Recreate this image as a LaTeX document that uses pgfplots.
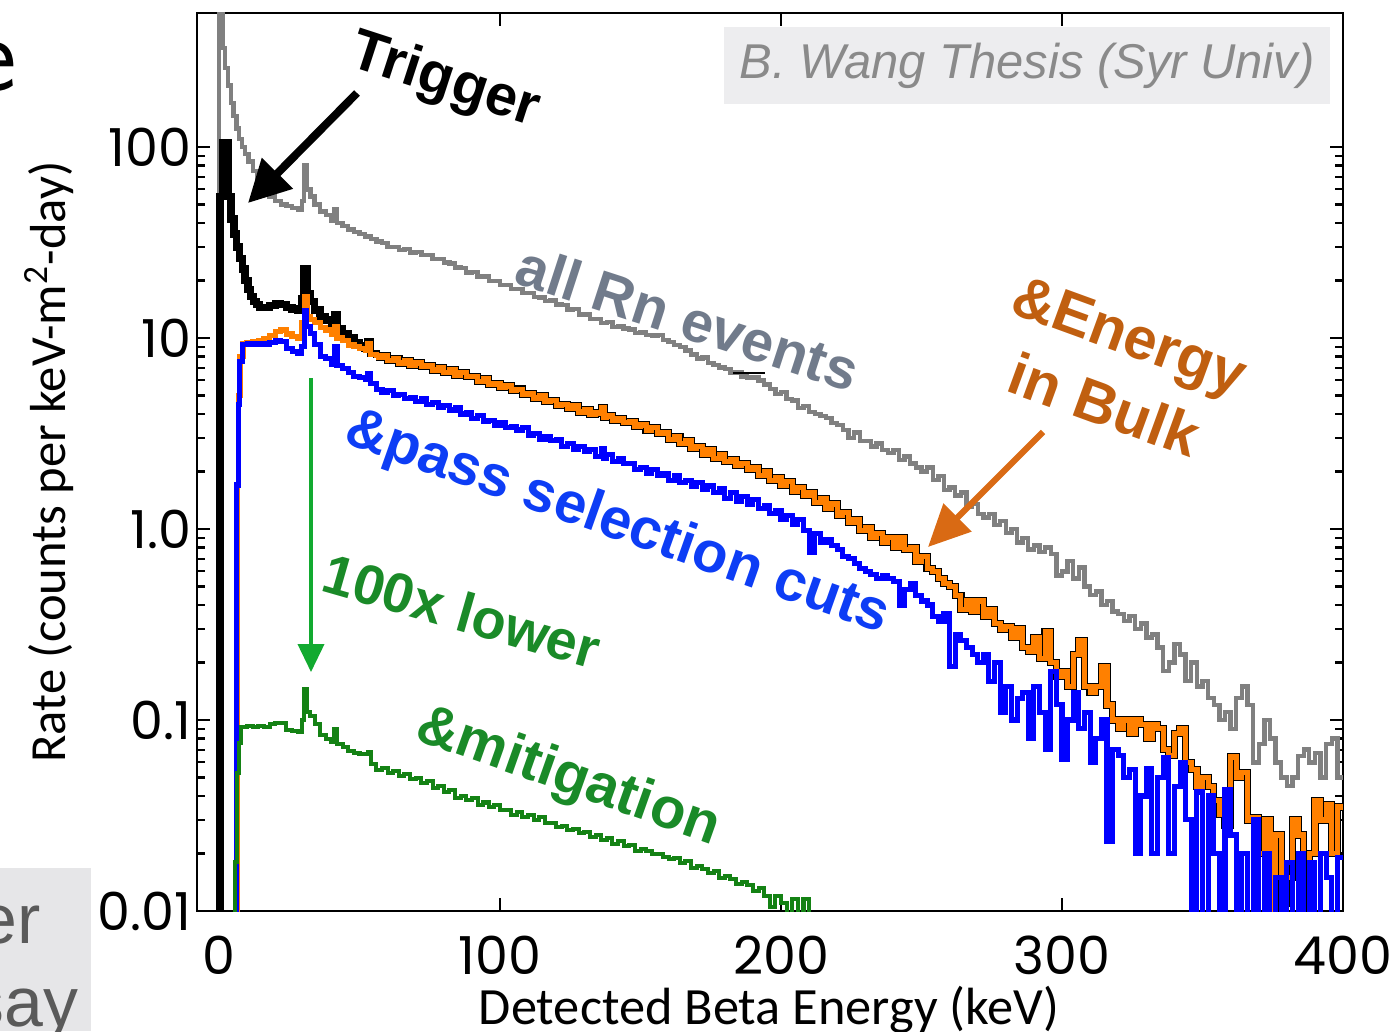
\documentclass[border=0pt]{standalone}
\usepackage{fontspec}
\usepackage{pgfplots}
\pgfplotsset{compat=1.18}
\usepackage{pgfplotstable}
\usetikzlibrary{arrows.meta}
\newfontfamily\lib{Liberation Sans}
\newfontfamily\pop{Poppins}
\newfontfamily\carl{Carlito}
\definecolor{cgray}{HTML}{808080}
\definecolor{corange}{HTML}{FF8000}
\definecolor{cblue}{HTML}{0000FF}
\definecolor{cgreen}{HTML}{148214}
\definecolor{tslate}{HTML}{717B8B}
\definecolor{torange}{HTML}{C05F10}
\definecolor{tblue}{HTML}{0D3DF5}
\definecolor{tgreen}{HTML}{1A8A28}
\definecolor{agreen}{HTML}{12AA30}
\definecolor{aorange}{HTML}{D96A14}
\definecolor{boxgray}{HTML}{EDEDEF}
\definecolor{wanggray}{HTML}{8A8A8A}
\definecolor{fraggray}{HTML}{E6E6E8}
\definecolor{fragtext}{HTML}{5A5A5A}

\pgfplotstableread[row sep=\\]{E v\\
-1 1e-4\\ 0 3000\\ 1.2 330\\ 2.2 260\\ 3.2 210\\ 4.2 170\\ 5.2 145\\ 6.2 125\\ 7.2 110\\ 8.2 100\\ 9.2 92\\ 10.5 84\\ 12 75\\ 13.5 68\\ 15 62\\ 16.5 58\\ 18 55\\ 20 52\\ 22 50\\ 24 49\\ 26 48\\ 28 47\\ 29.5 52\\ 30.3 80\\ 31.3 60\\ 32.5 55\\ 34 50\\ 36 46\\ 38 44\\ 40 41\\ 41 47\\ 42 40\\ 44 38.5\\ 46 37\\ 48 36\\ 50 35\\ 52 34\\ 54 33\\ 56 32\\ 58 31.5\\ 60 30\\ 62 30\\ 64 28.8\\ 66 29.2\\ 68 28\\ 70 28.3\\ 72 27.2\\ 74 27.3\\ 76 26\\ 78 26\\ 80 24.8\\ 82 24.6\\ 84 23.4\\ 86 23.3\\ 88 22\\ 90 22.1\\ 92 21\\ 94 21\\ 96 19.9\\ 98 19.9\\ 100 18.9\\ 102 18.9\\ 104 18\\ 106 18\\ 108 17.2\\ 110 17.2\\ 112 16.4\\ 114 16.3\\ 116 15.6\\ 118 15.7\\ 120 15\\ 122 14.9\\ 124 14.1\\ 126 14.2\\ 128 13.3\\ 130 13.3\\ 132 12.6\\ 134 12.6\\ 136 12\\ 138 12.1\\ 140 11.4\\ 142 11.5\\ 144 11.2\\ 146 11.1\\ 148 10.6\\ 150 10.7\\ 152 10.4\\ 154 10.3\\ 156 10.4\\ 158 9.8\\ 160 9.5\\ 162 9.2\\ 164 9.0\\ 166 8.6\\ 168 8.2\\ 170 7.8\\ 172 7.9\\ 174 7.4\\ 176 7.2\\ 178 7.0\\ 180 6.9\\ 182 6.6\\ 184 6.6\\ 186 6.3\\ 188 6.2\\ 190 6.2\\ 192 6.0\\ 194 5.7\\ 196 5.4\\ 198 5.1\\ 200 5.2\\ 202 4.8\\ 204 4.7\\ 206 4.3\\ 208 4.4\\ 210 4.1\\ 212 4.0\\ 214 3.9\\ 216 3.8\\ 218 3.6\\ 220 3.5\\ 222 3.3\\ 224 3.0\\ 226 3.2\\ 228 2.9\\ 230 2.9\\ 232 2.7\\ 234 2.8\\ 236 2.6\\ 238 2.5\\ 240 2.6\\ 242 2.3\\ 244 2.4\\ 246 2.2\\ 248 2.1\\ 250 2.0\\ 252 2.1\\ 254 1.8\\ 256 1.9\\ 258 1.6\\ 260 1.65\\ 262 1.5\\ 264 1.55\\ 266 1.3\\ 268 1.35\\ 270 1.2\\ 272 1.15\\ 274 1.2\\ 276 1.05\\ 278 1.1\\ 280 0.95\\ 282 1.0\\ 284 0.85\\ 286 0.9\\ 288 0.78\\ 290 0.82\\ 292 0.76\\ 294 0.8\\ 296 0.74\\ 298 0.57\\ 300 0.6\\ 302 0.68\\ 304 0.55\\ 306 0.63\\ 308 0.5\\ 310 0.45\\ 312 0.47\\ 314 0.4\\ 316 0.42\\ 318 0.37\\ 320 0.36\\ 322 0.33\\ 324 0.35\\ 326 0.3\\ 328 0.32\\ 330 0.27\\ 332 0.28\\ 334 0.24\\ 336 0.18\\ 338 0.2\\ 340 0.25\\ 342 0.22\\ 344 0.16\\ 346 0.2\\ 348 0.15\\ 350 0.16\\ 352 0.13\\ 354 0.12\\ 356 0.1\\ 358 0.11\\ 360 0.09\\ 362 0.13\\ 364 0.15\\ 366 0.12\\ 368 0.06\\ 370 0.075\\ 372 0.1\\ 374 0.08\\ 376 0.06\\ 378 0.05\\ 380 0.045\\ 382 0.05\\ 384 0.065\\ 386 0.07\\ 388 0.06\\ 390 0.067\\ 392 0.05\\ 394 0.075\\ 396 0.08\\ 398 0.05\\ 400 0.05\\
}\grayd

\pgfplotstableread[row sep=\\]{E v\\
56 7.9\\ 58 8.1\\ 60 7.6\\ 62 7.8\\ 64 7.4\\ 66 7.6\\ 68 7.2\\ 70 7.4\\ 72 7.1\\ 74 7.2\\ 76 6.8\\ 78 7.0\\ 80 6.6\\ 82 6.8\\ 84 6.4\\ 86 6.6\\ 88 6.3\\ 90 6.3\\ 92 5.9\\ 94 6.1\\ 96 5.75\\ 98 5.8\\ 100 5.5\\ 102 5.6\\ 104 5.3\\ 106 5.4\\ 108 5.05\\ 110 5.1\\ 112 4.85\\ 114 5.0\\ 116 4.65\\ 118 4.7\\ 120 4.45\\ 122 4.5\\ 124 4.3\\ 126 4.4\\ 128 4.1\\ 130 4.2\\ 132 4.0\\ 134 4.05\\ 136 4.3\\ 137 3.85\\ 138 3.9\\ 140 3.7\\ 142 3.8\\ 144 3.6\\ 146 3.65\\ 148 3.45\\ 150 3.5\\ 152 3.3\\ 154 3.4\\ 156 3.15\\ 158 3.2\\ 160 2.95\\ 162 3.05\\ 164 2.8\\ 166 2.9\\ 168 2.65\\ 170 2.7\\ 172 2.45\\ 174 2.6\\ 176 2.35\\ 178 2.45\\ 180 2.25\\ 182 2.3\\ 184 2.15\\ 186 2.2\\ 188 2.05\\ 190 2.1\\ 192 1.9\\ 194 2.0\\ 196 1.8\\ 198 1.85\\ 200 1.7\\ 202 1.78\\ 204 1.58\\ 206 1.65\\ 208 1.5\\ 210 1.55\\ 212 1.38\\ 214 1.45\\ 216 1.28\\ 218 1.35\\ 220 1.18\\ 222 1.22\\ 224 1.08\\ 226 1.12\\ 228 0.98\\ 230 1.02\\ 232 0.9\\ 234 0.95\\ 236 0.85\\ 238 0.9\\ 240 0.8\\ 242 0.9\\ 244 0.78\\ 246 0.8\\ 248 0.68\\ 250 0.72\\ 252 0.62\\ 254 0.6\\ 256 0.55\\ 258 0.52\\ 260 0.5\\ 262 0.45\\ 264 0.38\\ 266 0.42\\ 268 0.37\\ 270 0.42\\ 272 0.35\\ 274 0.38\\ 276 0.32\\ 278 0.3\\ 280 0.31\\ 282 0.27\\ 284 0.3\\ 286 0.24\\ 288 0.23\\ 290 0.27\\ 292 0.21\\ 294 0.29\\ 296 0.2\\ 298 0.17\\ 300 0.18\\ 302 0.15\\ 304 0.22\\ 306 0.26\\ 308 0.15\\ 310 0.14\\ 312 0.15\\ 314 0.19\\ 316 0.12\\ 318 0.1\\ 320 0.09\\ 322 0.1\\ 324 0.085\\ 326 0.1\\ 328 0.095\\ 330 0.08\\ 332 0.095\\ 334 0.09\\ 336 0.07\\ 338 0.065\\ 340 0.085\\ 342 0.09\\ 344 0.06\\ 346 0.055\\ 348 0.045\\ 350 0.05\\ 352 0.045\\ 354 0.038\\ 356 0.032\\ 358 0.028\\ 360 0.064\\ 362 0.05\\ 364 0.053\\ 366 0.03\\ 368 0.031\\ 370 0.02\\ 372 0.03\\ 374 0.008\\ 376 0.025\\ 378 0.011\\ 380 0.015\\ 382 0.03\\ 384 0.025\\ 386 0.008\\ 388 0.02\\ 390 0.038\\ 392 0.03\\ 394 0.036\\ 396 0.02\\ 398 0.035\\ 400 0.035\\
}\highd

\pgfplotstableread[row sep=\\]{E v\\
-1 1e-4\\ 0.3 55\\ 1.3 105\\ 3.3 55\\ 4.3 42\\ 5.3 35\\ 6.3 30\\ 7.3 26\\ 8.3 23\\ 9.3 20\\ 10.3 18\\ 11.3 16.5\\ 12.3 15.5\\ 13.3 15\\ 14.5 14.5\\ 16 14.5\\ 18 14.8\\ 20 15.2\\ 22 15.0\\ 24 14.5\\ 26 14.2\\ 28 14.0\\ 29.5 16\\ 30.3 23\\ 31.3 17\\ 32.5 15.5\\ 34 14\\ 36 13\\ 38 12.4\\ 40 11.6\\ 41 13.3\\ 42 11.2\\ 44 10.6\\ 46 10\\ 48 9.5\\ 50 9.1\\ 52 8.8\\ 53 9.6\\ 54 8.3\\ 56 7.9\\
}\blacklow

\pgfplotstableread[row sep=\\]{E v\\
-1 1e-4\\ 5.5 1e-4\\ 6.5 1.7\\ 7 5\\ 7.5 8\\ 8.5 9.3\\ 10 9.5\\ 12 9.6\\ 14 9.7\\ 16 9.9\\ 18 10.3\\ 20 10.8\\ 22 11.0\\ 24 10.5\\ 26 10.2\\ 28 10.0\\ 29.5 12\\ 30.3 16.4\\ 31.3 13\\ 32.5 12.5\\ 34 12\\ 36 11.4\\ 38 11\\ 40 10.4\\ 41 11.5\\ 42 10\\ 44 9.7\\ 46 9.2\\ 48 9.0\\ 50 8.8\\ 52 8.6\\ 53 9.4\\ 54 8.2\\ 56 7.9\\
}\orangelow

\pgfplotstableread[row sep=\\]{E v\\
-1 1e-4\\ 6.0 1e-4\\ 6.3 1.7\\ 6.9 4.5\\ 7.4 7.5\\ 8.2 9.2\\ 10 9.4\\ 12 9.3\\ 14 9.4\\ 16 9.3\\ 18 9.5\\ 20 9.7\\ 22 9.6\\ 24 8.8\\ 26 8.5\\ 28 8.3\\ 29.5 9\\ 30.3 14\\ 31.3 11.5\\ 32.5 10.6\\ 34 9.2\\ 36 8.0\\ 38 7.8\\ 40 7.3\\ 41 9.0\\ 42 7.2\\ 44 6.9\\ 46 6.6\\ 48 6.3\\ 50 6.2\\ 52 6.1\\ 53 6.5\\ 54 5.8\\ 56 5.4\\ 58 5.2\\ 60 5.3\\ 62 5.0\\ 64 5.05\\ 66 4.8\\ 68 4.9\\ 70 4.65\\ 72 4.8\\ 74 4.5\\ 76 4.6\\ 78 4.35\\ 80 4.45\\ 82 4.2\\ 84 4.3\\ 86 4.0\\ 88 4.05\\ 90 3.8\\ 92 3.95\\ 94 3.65\\ 96 3.7\\ 98 3.5\\ 100 3.6\\ 102 3.4\\ 104 3.45\\ 106 3.3\\ 108 3.4\\ 110 3.1\\ 112 3.15\\ 114 2.95\\ 116 3.05\\ 118 2.9\\ 120 2.95\\ 122 2.7\\ 124 2.8\\ 126 2.6\\ 128 2.7\\ 130 2.55\\ 132 2.6\\ 134 2.4\\ 136 2.65\\ 137 2.35\\ 138 2.45\\ 140 2.25\\ 142 2.35\\ 144 2.2\\ 146 2.2\\ 148 2.05\\ 150 2.1\\ 152 1.95\\ 154 2.05\\ 156 1.9\\ 158 1.95\\ 160 1.8\\ 162 1.9\\ 164 1.75\\ 166 1.8\\ 168 1.68\\ 170 1.75\\ 172 1.62\\ 174 1.68\\ 176 1.55\\ 178 1.62\\ 180 1.45\\ 182 1.55\\ 184 1.4\\ 186 1.48\\ 188 1.35\\ 190 1.42\\ 192 1.28\\ 194 1.33\\ 196 1.2\\ 198 1.25\\ 200 1.12\\ 202 1.18\\ 204 1.05\\ 206 1.12\\ 208 0.98\\ 210 0.75\\ 212 0.95\\ 214 0.85\\ 216 0.88\\ 218 0.82\\ 220 0.78\\ 222 0.72\\ 224 0.7\\ 226 0.66\\ 228 0.62\\ 230 0.6\\ 232 0.58\\ 234 0.55\\ 236 0.57\\ 238 0.55\\ 240 0.53\\ 242 0.4\\ 244 0.48\\ 246 0.52\\ 248 0.45\\ 250 0.42\\ 252 0.4\\ 254 0.35\\ 256 0.33\\ 258 0.36\\ 260 0.19\\ 262 0.28\\ 264 0.26\\ 266 0.24\\ 268 0.22\\ 270 0.2\\ 272 0.22\\ 274 0.16\\ 276 0.2\\ 278 0.11\\ 280 0.15\\ 282 0.1\\ 284 0.13\\ 286 0.14\\ 288 0.08\\ 290 0.15\\ 292 0.11\\ 294 0.07\\ 296 0.18\\ 298 0.12\\ 300 0.062\\ 302 0.1\\ 304 0.14\\ 306 0.09\\ 308 0.11\\ 310 0.06\\ 312 0.08\\ 314 0.1\\ 316 0.023\\ 318 0.07\\ 320 0.065\\ 322 0.05\\ 324 0.055\\ 326 0.02\\ 328 0.04\\ 330 0.056\\ 332 0.02\\ 334 0.05\\ 336 0.064\\ 338 0.02\\ 340 0.045\\ 342 0.06\\ 344 0.03\\ 346 1e-4\\ 348 0.042\\ 350 1e-4\\ 352 0.04\\ 354 0.02\\ 356 1e-4\\ 358 0.043\\ 360 0.025\\ 362 1e-4\\ 364 0.02\\ 366 1e-4\\ 368 0.03\\ 370 1e-4\\ 372 0.02\\ 374 1e-4\\ 376 0.015\\ 378 1e-4\\ 380 0.018\\ 382 1e-4\\ 384 0.02\\ 386 1e-4\\ 388 0.018\\ 390 1e-4\\ 392 0.02\\ 394 0.015\\ 396 1e-4\\ 398 0.019\\ 400 0.019\\
}\blued

\pgfplotstableread[row sep=\\]{E v\\
-1 1e-4\\ 5.8 0.018\\ 6.5 0.053\\ 7.0 0.076\\ 8.0 0.092\\ 10 0.093\\ 12 0.092\\ 14 0.093\\ 16 0.092\\ 18 0.095\\ 20 0.097\\ 22 0.096\\ 24 0.089\\ 26 0.088\\ 28 0.087\\ 29.5 0.1\\ 30.3 0.145\\ 31.3 0.11\\ 32.5 0.105\\ 34 0.095\\ 36 0.083\\ 38 0.08\\ 40 0.077\\ 41 0.09\\ 42 0.075\\ 44 0.072\\ 46 0.069\\ 48 0.067\\ 50 0.066\\ 52 0.066\\ 53 0.068\\ 54 0.059\\ 56 0.055\\ 58 0.056\\ 60 0.053\\ 62 0.054\\ 64 0.051\\ 66 0.052\\ 68 0.049\\ 70 0.05\\ 72 0.047\\ 74 0.048\\ 76 0.044\\ 78 0.045\\ 80 0.042\\ 82 0.043\\ 84 0.039\\ 86 0.040\\ 88 0.038\\ 90 0.039\\ 92 0.036\\ 94 0.037\\ 96 0.035\\ 98 0.036\\ 100 0.034\\ 102 0.034\\ 104 0.032\\ 106 0.033\\ 108 0.031\\ 110 0.032\\ 112 0.030\\ 114 0.031\\ 116 0.029\\ 118 0.029\\ 120 0.0275\\ 122 0.028\\ 124 0.0265\\ 126 0.027\\ 128 0.0255\\ 130 0.026\\ 132 0.0245\\ 134 0.025\\ 136 0.0235\\ 138 0.024\\ 140 0.0225\\ 142 0.0232\\ 144 0.0218\\ 146 0.0222\\ 148 0.0207\\ 150 0.0212\\ 152 0.0205\\ 154 0.0198\\ 156 0.02\\ 158 0.0192\\ 160 0.0188\\ 162 0.019\\ 164 0.0178\\ 166 0.0182\\ 168 0.0168\\ 170 0.0172\\ 172 0.0166\\ 174 0.0158\\ 176 0.0162\\ 178 0.0149\\ 180 0.0153\\ 182 0.0147\\ 184 0.0138\\ 186 0.0142\\ 188 0.0137\\ 190 0.0128\\ 192 0.0132\\ 194 0.012\\ 196 0.0105\\ 198 0.012\\ 200 0.011\\ 202 0.0095\\ 204 0.0115\\ 206 0.009\\ 208 0.0115\\ 210 1e-4\\ 212 1e-4\\
}\greend

\begin{document}
\begin{tikzpicture}
\useasboundingbox (-56.44pt,-34.38pt) rectangle (342.08pt,261.0pt);
\begin{scope}[x=0.2865pt, y=-0.2865pt, shift={(-56.44pt,261.0pt)}]
\fill[boxgray] (724,27) rectangle (1330,104);
\end{scope}
\begin{axis}[
  at={(0,0)}, anchor=south west, scale only axis,
  width=328.33pt, height=257.28pt,
  ymode=log, xmin=-7.83, xmax=400, ymin=0.01, ymax=503,
  xtick={0,100,200,300,400}, xticklabels={0,100,200,300,400},
  ytick={0.01,0.1,1,10,100}, yticklabels={0.01,0.1,1.0,10,100},
  minor x tick num=0,
  xtick pos=both, ytick pos=both, tick align=inside,
  major tick length=3.7pt, minor tick length=2.2pt,
  tick style={black, line width=0.6pt},
  axis line style={line width=0.6pt},
  tick label style={font=\pop\fontsize{15}{17}\selectfont},
  yticklabel style={inner sep=1.5pt},
  xticklabel style={yshift=-3.5pt},
  /pgf/number format/assume math mode=true,
  clip=true,
]
\addplot[const plot, no markers, cgray, line width=1.25pt] table[x=E,y=v]{\grayd};
\addplot[const plot, no markers, black, line width=2.1pt] table[x=E,y=v]{\blacklow};
\addplot[const plot, no markers, black, line width=2.1pt] table[x=E,y=v]{\highd};
\addplot[const plot, no markers, corange, line width=1.5pt] table[x=E,y=v]{\orangelow};
\addplot[const plot, no markers, corange, line width=1.5pt] table[x=E,y=v]{\highd};
\addplot[const plot, no markers, cblue, line width=1.45pt] table[x=E,y=v]{\blued};
\addplot[const plot, no markers, cgreen, line width=1.15pt] table[x=E,y=v]{\greend};
\end{axis}
\begin{scope}[x=0.2865pt, y=-0.2865pt, shift={(-56.44pt,261.0pt)}]
% slide fragments
\fill[fraggray] (0,868) rectangle (91,1031);
\node[anchor=base west, inner sep=0pt, text=fragtext, font=\lib\fontsize{20}{24}\selectfont] at (-22,943) {er};
\node[anchor=base west, inner sep=0pt, text=fragtext, font=\lib\fontsize{20}{24}\selectfont] at (-31,1026) {say};
\node[anchor=base east, inner sep=0pt, text=black, font=\sffamily\fontsize{31}{36}\selectfont] at (17,90) {e};
\draw[black, line width=0.4pt] (733,373) -- (765,373);
% labels
\node[anchor=base, inner sep=0pt, font=\carl\fontsize{15}{18}\selectfont] at (769,1024) {Detected Beta Energy (keV)};
\node[anchor=base, rotate=90, inner sep=0pt, font=\carl\fontsize{14.5}{17}\selectfont] at (66,462) {Rate (counts per keV-m\textsuperscript{2}-day)};
\node[text=wanggray, font=\lib\itshape\fontsize{14}{17}\selectfont] at (1027,66) {B. Wang Thesis (Syr Univ)};
% annotations
\node[rotate=-18, font=\lib\bfseries\fontsize{16.5}{19}\selectfont] at (445,82) {Trigger};
\node[rotate=-18, text=tslate, font=\lib\bfseries\fontsize{16.5}{19}\selectfont] at (688,318) {all Rn events};
\node[rotate=-20, text=torange, align=center, font=\lib\bfseries\fontsize{17}{21.5}\selectfont] at (1117,370) {\&Energy\\in Bulk};
\node[rotate=-19.5, text=tblue, font=\lib\bfseries\fontsize{16.5}{19}\selectfont] at (617,524) {\&pass selection cuts};
\node[rotate=-16, text=tgreen, font=\lib\bfseries\fontsize{16}{19}\selectfont] at (462,611) {100x lower};
\node[rotate=-19.5, text=tgreen, font=\lib\bfseries\fontsize{16.5}{19}\selectfont] at (568,778) {\&mitigation};
% arrows
\draw[line width=2.3pt, -{Triangle[length=12pt,width=12pt]}] (357,93) -- (248,203);
\draw[line width=0.9pt, agreen, -{Triangle[length=8pt,width=7.5pt]}] (311,378) -- (311,672);
\draw[line width=1.8pt, aorange, -{Triangle[length=12pt,width=11pt]}] (1043,432) -- (928,547);
\end{scope}
\end{tikzpicture}
\end{document}
